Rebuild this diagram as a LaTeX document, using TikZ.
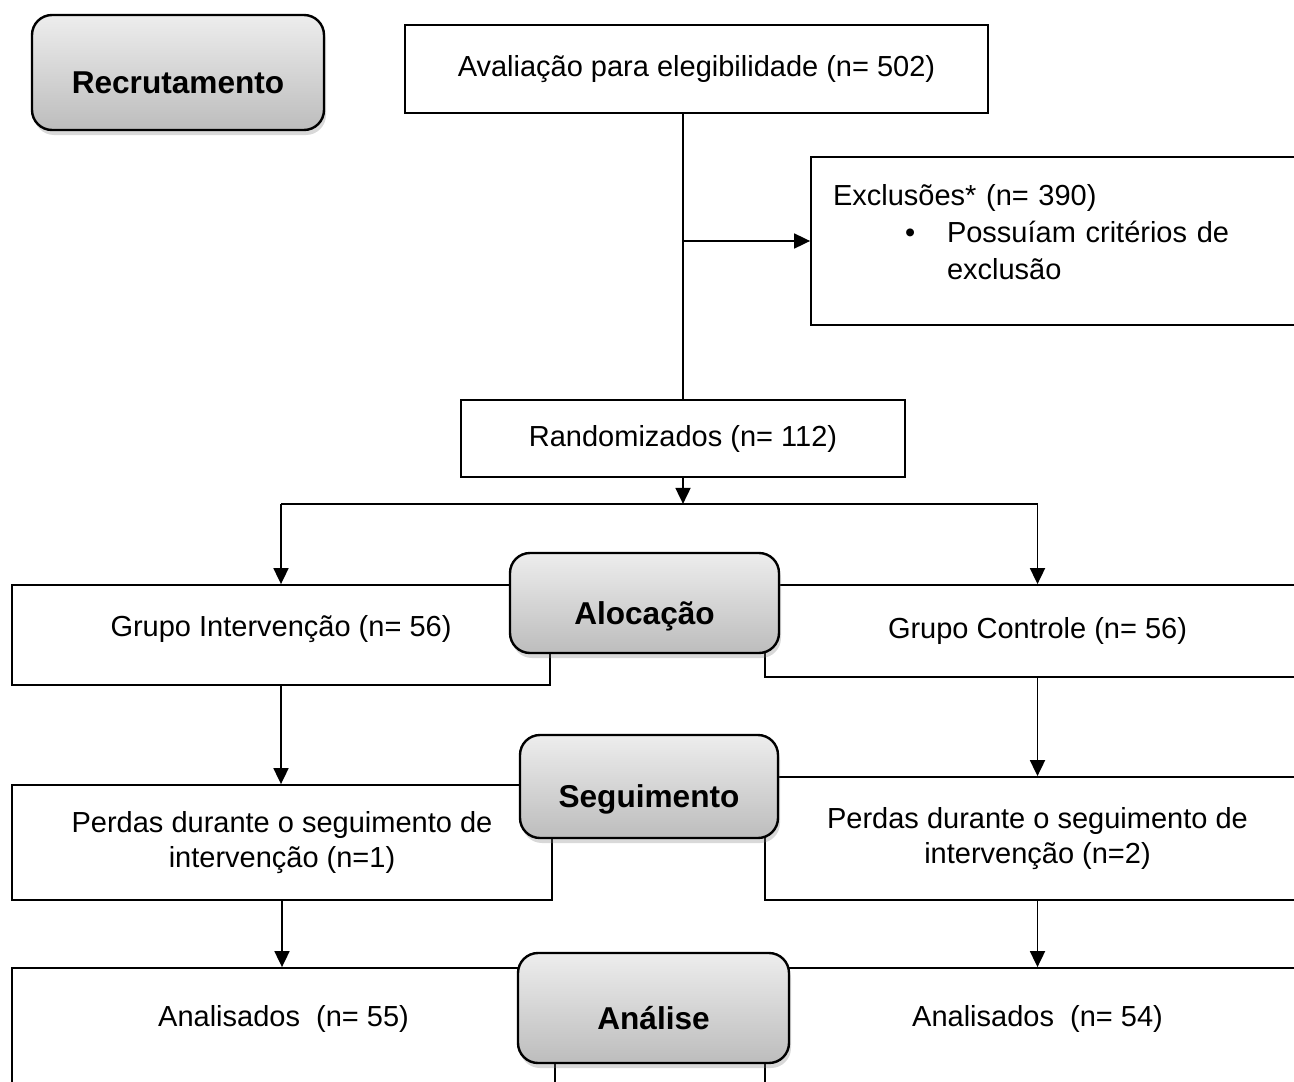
\documentclass[tikz,border=0pt]{standalone}
\usepackage{fontspec}
\setmainfont{Liberation Sans}
\usetikzlibrary{arrows.meta, positioning, shadows}

\begin{document}
\begin{tikzpicture}[
  x=0.5pt, y=-0.5pt,
  font=\fontsize{14.5}{17.5}\selectfont,
  every node/.style={align=center},
  box/.style={rectangle, draw=black, line width=0.9pt, fill=white, inner sep=0pt},
  phase/.style={rectangle, rounded corners=10pt, draw=black, line width=1.2pt,
    top color=black!7, bottom color=black!26, inner sep=0pt,
    text height=21pt, text depth=0pt,
    drop shadow={shadow xshift=1pt, shadow yshift=-2.5pt, opacity=0.3},
    font=\fontsize{15.8}{18}\selectfont\bfseries},
  arr/.style={-{Triangle[length=8pt, width=7.5pt]}, line width=0.9pt}
]
\useasboundingbox (0,0) rectangle (1294,1081);
\clip (0,0) rectangle (1294,1081);

% white boxes
\node[box, minimum width=291.5pt, minimum height=44pt] (aval) at (696.5,69) {Avaliação para elegibilidade (n= 502)};
\node[box, minimum width=249.5pt, minimum height=84pt, text width=227.5pt, align=left,
  font=\fontsize{14.5}{18.5}\selectfont, text depth=46pt] (excl) at (1060.5,241)
  {Exclusões* (n= 390)\\
   \hspace*{36pt}\makebox[21pt][l]{\textbullet}Possuíam critérios de\\
   \hspace*{57pt}exclusão};
\node[box, minimum width=222pt, minimum height=38.5pt] (rand) at (683,438.5) {Randomizados (n= 112)};
\node[box, minimum width=269pt, minimum height=50pt, text depth=9pt] (gint) at (281,635) {Grupo Intervenção (n= 56)};
\node[box, minimum width=272.5pt, minimum height=46pt] (gcon) at (1037.5,631) {Grupo Controle (n= 56)};
\node[box, minimum width=270pt, minimum height=57.5pt] (perL) at (282,842.5) {Perdas durante o seguimento de\\intervenção (n=1)};
\node[box, minimum width=272.5pt, minimum height=61.5pt] (perR) at (1037.5,838.5) {Perdas durante o seguimento de\\intervenção (n=2)};
\node[box, minimum width=271.5pt, minimum height=66pt, text depth=17.6pt] (anaL) at (283.5,1034) {Analisados\ \ (n= 55)};
\node[box, minimum width=272.5pt, minimum height=66pt, text depth=17.6pt] (anaR) at (1037.5,1034) {Analisados\ \ (n= 54)};

% connectors
\coordinate[below=13pt of rand.south] (split);
\draw[line width=0.9pt] (rand.north |- aval.south) -- (rand.north);
\draw[arr] (rand.north |- excl.west) -- (excl.west);
\draw[arr] (rand.south) -- (split);
\draw[line width=0.9pt] (gint.north |- split) -- (gcon.north |- split);
\draw[arr] (gint.north |- split) -- (gint.north);
\draw[arr] (gcon.north |- split) -- (gcon.north);
\draw[arr] (gint.south) -- (gint.south |- perL.north);
\draw[arr] (gcon.south) -- (gcon.south |- perR.north);
\draw[arr] (perL.south) -- (perL.south |- anaL.north);
\draw[arr] (perR.south) -- (perR.south |- anaR.north);

% phase labels
\node[phase, minimum width=146pt, minimum height=57.5pt] (recr) at (178,72.5) {Recrutamento};
\node[phase, minimum width=134.5pt, minimum height=50pt] (aloc) at (644.5,603) {Alocação};
\node[phase, minimum width=129pt, minimum height=51.5pt] (segu) at (649,786.5) {Seguimento};
\node[phase, minimum width=135.5pt, minimum height=55pt] (anal) at (653.5,1008) {Análise};
\end{tikzpicture}
\end{document}
